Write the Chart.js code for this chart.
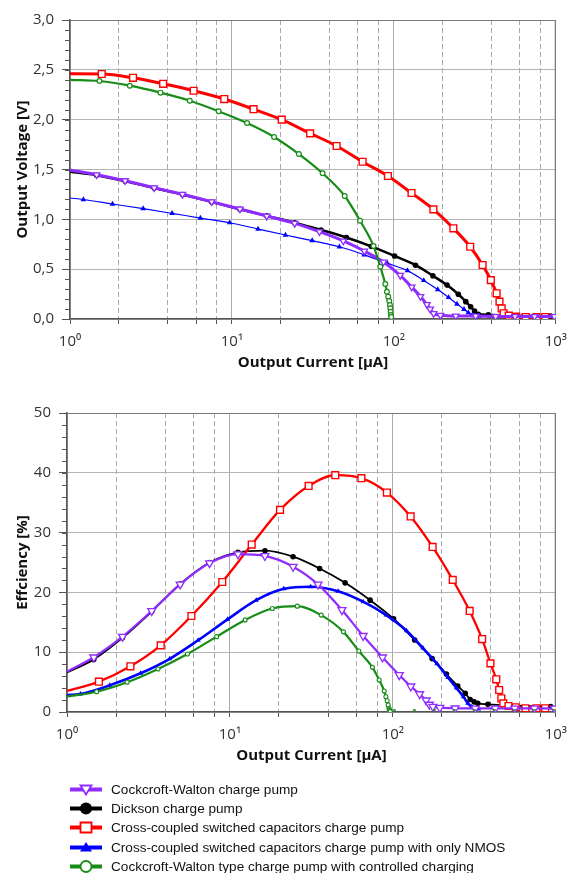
<!DOCTYPE html>
<html>
<head>
<meta charset="utf-8">
<script src="https://cdn.jsdelivr.net/npm/chart.js@4.4.1/dist/chart.umd.min.js"></script>
<style>
  html, body { margin: 0; padding: 0; background: #fff; }
  body { width: 576px; height: 873px; position: relative; overflow: hidden; font-family: 'Liberation Sans', Arial, sans-serif; }
  .box { position: absolute; left: 0; width: 576px; }
  #voltBox { top: 0; height: 375px; }
  #effBox { top: 390px; height: 378px; }
  #legend { position: absolute; left: 70px; top: 780px; }
  .row { display: flex; align-items: center; height: 19.2px; font-size: 13.6px; color: #111; white-space: nowrap; }
  .row canvas { margin-right: 9px; }
</style>
</head>
<body>
<div class="box" id="voltBox"><canvas id="voltChart"></canvas></div>
<div class="box" id="effBox"><canvas id="effChart"></canvas></div>
<div id="legend"></div>
<script>
// Axis ticks
const xTickVals = [1, 2, 4, 6, 8, 10, 20, 40, 60, 80, 100, 200, 400, 600, 800, 1000];
const decadeVals = [1, 10, 100, 1000];
const decadeLabels = ['10⁰', '10¹', '10²', '10³'];
const voltTicks = [0, 0.5, 1, 1.5, 2, 2.5, 3];
const effTicks = [0, 10, 20, 30, 40, 50];

// Cockcroft-Walton charge pump (current in µA)
const cwI = [1, 1.46, 2.19, 3.31, 4.95, 7.5, 11.2, 16.4, 24.4, 34.7, 48.7, 65.7, 86.3, 109.4, 128.8, 145.9, 160, 167.5, 176, 194, 241, 320, 425, 560, 740, 980];
const cwV = [1.495, 1.448, 1.388, 1.317, 1.251, 1.177, 1.104, 1.033, 0.96, 0.876, 0.783, 0.682, 0.572, 0.438, 0.321, 0.226, 0.145, 0.10, 0.055, 0.037, 0.03, 0.03, 0.025, 0.025, 0.025, 0.025];
const cwEff = [6.74, 9.15, 12.6, 16.9, 21.35, 24.9, 26.4, 26.1, 24.3, 21.35, 17.06, 12.74, 9.15, 6.19, 4.3, 3.0, 1.96, 1.25, 0.89, 0.72, 0.62, 0.6, 0.6, 0.6, 0.6, 0.6];

// Dickson charge pump
const dkI = [1, 1.46, 2.19, 3.31, 4.95, 7.5, 11.2, 16.4, 24.4, 35.5, 50.9, 72.5, 101, 136, 174, 213, 250, 278, 298, 315, 332, 383, 514, 930];
const dkV = [1.478, 1.443, 1.384, 1.314, 1.249, 1.174, 1.102, 1.035, 0.966, 0.893, 0.818, 0.729, 0.632, 0.54, 0.434, 0.34, 0.248, 0.174, 0.123, 0.08, 0.047, 0.043, 0.035, 0.03];
const dkEff = [6.6, 8.8, 12.4, 16.8, 21.4, 25.0, 26.7, 26.97, 25.97, 24.0, 21.6, 18.7, 15.6, 12.04, 8.93, 6.34, 4.35, 3.13, 2.1, 1.7, 1.45, 1.29, 1.1, 0.9];

// Cross-coupled switched capacitors charge pump
const ccI = [1, 1.57, 2.45, 3.76, 5.8, 8.97, 13.6, 20.3, 30.4, 44.3, 64.1, 91.9, 128.5, 175.4, 233, 296, 353, 397, 431, 449, 463, 476, 512, 568, 651, 760, 860];
const ccV = [2.46, 2.458, 2.42, 2.36, 2.29, 2.207, 2.105, 2.0, 1.863, 1.736, 1.578, 1.435, 1.264, 1.10, 0.91, 0.725, 0.542, 0.39, 0.258, 0.174, 0.107, 0.057, 0.033, 0.023, 0.02, 0.02, 0.02];
const ccEff = [3.51, 5.07, 7.64, 11.15, 16.05, 21.74, 28.0, 33.8, 37.8, 39.6, 39.1, 36.7, 32.7, 27.6, 22.1, 16.9, 12.2, 8.14, 5.47, 3.68, 2.29, 1.45, 1.0, 0.79, 0.62, 0.62, 0.62];

// Cross-coupled switched capacitors charge pump with only NMOS
const nmI = [1, 1.21, 1.83, 2.83, 4.27, 6.38, 9.68, 14.5, 21.4, 31.3, 46.1, 65.7, 91, 121.3, 152.9, 186.6, 217.8, 245.5, 271, 288.4, 305, 336];
const nmV = [1.214, 1.199, 1.154, 1.107, 1.06, 1.013, 0.966, 0.903, 0.843, 0.786, 0.725, 0.644, 0.56, 0.485, 0.387, 0.295, 0.216, 0.15, 0.097, 0.063, 0.04, 0.03];
const nmEff = [2.84, 3.0, 4.46, 6.47, 8.9, 12.0, 15.5, 18.7, 20.6, 20.95, 20.2, 18.45, 16.2, 13.6, 10.7, 8.08, 5.77, 4.01, 2.56, 1.45, 0.89, 0.5];

// Cockcroft-Walton type charge pump with controlled charging
const ctI = [1, 1.52, 2.34, 3.62, 5.49, 8.28, 12.4, 18.2, 25.9, 36.3, 49.7, 61.8, 74.9, 82.4, 88.5, 90.6, 92.3, 93.6, 94.6, 95.1, 95.5, 96, 96.3];
const ctV = [2.40, 2.388, 2.341, 2.271, 2.19, 2.084, 1.966, 1.826, 1.655, 1.462, 1.234, 0.986, 0.732, 0.525, 0.351, 0.274, 0.224, 0.181, 0.14, 0.107, 0.073, 0.04, 0.02];
const ctEff = [2.56, 3.39, 4.97, 7.19, 9.7, 12.6, 15.4, 17.3, 17.7, 16.2, 13.4, 10.2, 7.47, 5.35, 3.51, 2.56, 1.89, 1.17, 0.62, 0.4, 0.25, 0.1, 0.05];
const ctTailI = [100, 1000];
const ctTailEff = [0.35, 0.35];

const labels = [
    'Cockcroft-Walton charge pump',
    'Dickson charge pump',
    'Cross-coupled switched capacitors charge pump',
    'Cross-coupled switched capacitors charge pump with only NMOS',
    'Cockcroft-Walton type charge pump with controlled charging'
];

const PURPLE = '#8f2cff';
const GREEN = '#178c17';
const FONT = "'Open Sans', 'DejaVu Sans', sans-serif";

function pts(xs, ys) {
    return xs.map((x, i) => ({ x: x, y: ys[i] }));
}

function makeDataset(label, xs, ys, s) {
    return {
        label: label,
        data: pts(xs, ys),
        borderColor: s.color,
        backgroundColor: s.fill,
        borderWidth: s.lw,
        pointStyle: s.shape,
        pointRotation: s.rot || 0,
        pointRadius: (c) => c.dataIndex === 0 ? 0 : s.r,
        pointBorderColor: s.color,
        pointBackgroundColor: s.fill,
        pointBorderWidth: s.pbw,
        cubicInterpolationMode: 'monotone',
        order: s.order
    };
}

function xScale() {
    return {
        type: 'logarithmic',
        min: 1,
        max: 1000,
        afterBuildTicks: (s) => { s.ticks = xTickVals.map(v => ({ value: v })); },
        afterFit: (s) => { s.height = 56; },
        ticks: {
            autoSkip: false,
            maxRotation: 0,
            padding: 9,
            color: '#333',
            font: { family: FONT, size: 15 },
            callback: (v) => {
                const k = decadeVals.indexOf(v);
                return k >= 0 ? decadeLabels[k] : '';
            }
        },
        grid: { color: '#ababab', lineWidth: 1, tickLength: 5, tickColor: '#555' },
        border: {
            color: '#555',
            width: 1.5,
            dash: (c) => (c.tick && decadeVals.indexOf(c.tick.value) < 0) ? [5, 3] : []
        },
        title: {
            display: true,
            text: 'Output Current [µA]',
            color: '#111',
            font: { family: FONT, size: 15, weight: 'bold' },
            padding: { top: 0, bottom: 3 }
        }
    };
}

function yScale(tickVals, width, fmt, titleText) {
    return {
        type: 'linear',
        min: tickVals[0],
        max: tickVals[tickVals.length - 1],
        afterBuildTicks: (s) => { s.ticks = tickVals.map(v => ({ value: v })); },
        afterFit: (s) => { s.width = width; },
        ticks: {
            padding: 8,
            color: '#333',
            font: { family: FONT, size: 15 },
            callback: fmt
        },
        grid: { color: '#b4b4b4', lineWidth: 1, tickLength: 8, tickColor: '#555' },
        border: { color: '#555', width: 1.5 },
        title: {
            display: true,
            text: titleText,
            color: '#111',
            font: { family: FONT, size: 15, weight: 'bold' },
            padding: { top: 14, bottom: 0 }
        }
    };
}

// frame on top/right and short minor ticks on the y axis
const framePlugin = {
    id: 'frame',
    beforeDatasetsDraw(chart, args, opts) {
        const ctx = chart.ctx;
        const a = chart.chartArea;
        const y = chart.scales.y;
        ctx.save();
        ctx.strokeStyle = '#7a7a7a';
        ctx.lineWidth = 1.2;
        ctx.beginPath();
        ctx.moveTo(a.left, a.top + 0.5);
        ctx.lineTo(a.right - 0.5, a.top + 0.5);
        ctx.lineTo(a.right - 0.5, a.bottom);
        ctx.stroke();
        ctx.strokeStyle = '#555';
        ctx.lineWidth = 1;
        const n = Math.round((y.max - y.min) / opts.minor);
        for (let i = 0; i <= n; i++) {
            const py = Math.round(y.getPixelForValue(y.min + i * opts.minor)) + 0.5;
            ctx.beginPath();
            ctx.moveTo(a.left - 5, py);
            ctx.lineTo(a.left, py);
            ctx.stroke();
        }
        ctx.restore();
    }
};

function baseOptions(tickVals, yWidth, fmt, yTitle, padTop, minor) {
    return {
        responsive: true,
        maintainAspectRatio: false,
        devicePixelRatio: 1,
        animation: false,
        layout: { padding: { top: padTop, right: 19, left: 0, bottom: 0 } },
        plugins: {
            legend: { display: false },
            tooltip: { enabled: false },
            frame: { minor: minor }
        },
        scales: {
            x: xScale(),
            y: yScale(tickVals, yWidth, fmt, yTitle)
        }
    };
}

const voltChart = new Chart(document.getElementById('voltChart'), {
    type: 'line',
    data: {
        datasets: [
            makeDataset(labels[0], cwI, cwV, { color: PURPLE, fill: '#fff', lw: 3, shape: 'triangle', rot: 180, r: 3.8, pbw: 1.3, order: 1 }),
            makeDataset(labels[1], dkI, dkV, { color: '#000', fill: '#000', lw: 2.5, shape: 'circle', r: 2.8, pbw: 0, order: 4 }),
            makeDataset(labels[2], ccI, ccV, { color: '#ff0000', fill: '#fff', lw: 3, shape: 'rect', r: 4.8, pbw: 1.4, order: 2 }),
            makeDataset(labels[3], nmI, nmV, { color: '#0000ff', fill: '#0000ff', lw: 1.2, shape: 'triangle', r: 3.3, pbw: 0, order: 3 }),
            makeDataset(labels[4], ctI, ctV, { color: GREEN, fill: '#fff', lw: 2.2, shape: 'circle', r: 2.4, pbw: 1.2, order: 0 })
        ]
    },
    options: baseOptions(voltTicks, 70, (v) => v.toFixed(1).replace('.', ','), 'Output Voltage [V]', 20, 0.1),
    plugins: [framePlugin]
});

const effChart = new Chart(document.getElementById('effChart'), {
    type: 'line',
    data: {
        datasets: [
            makeDataset(labels[0], cwI, cwEff, { color: PURPLE, fill: '#fff', lw: 2.2, shape: 'triangle', rot: 180, r: 4.6, pbw: 1.3, order: 1 }),
            makeDataset(labels[1], dkI, dkEff, { color: '#000', fill: '#000', lw: 1.8, shape: 'circle', r: 2.8, pbw: 0, order: 4 }),
            makeDataset(labels[2], ccI, ccEff, { color: '#ff0000', fill: '#fff', lw: 2.3, shape: 'rect', r: 4.8, pbw: 1.4, order: 2 }),
            makeDataset(labels[3], nmI, nmEff, { color: '#0000ff', fill: '#0000ff', lw: 2.6, shape: 'triangle', r: 3, pbw: 0, order: 3 }),
            makeDataset(labels[4], ctI, ctEff, { color: GREEN, fill: '#fff', lw: 2.2, shape: 'circle', r: 2, pbw: 1.1, order: 0 }),
            {
                label: 'tail',
                data: pts(ctTailI, ctTailEff),
                borderColor: GREEN,
                borderWidth: 1.5,
                borderDash: [3, 17],
                pointRadius: 0,
                order: 0
            }
        ]
    },
    options: baseOptions(effTicks, 67, (v) => String(v), 'Effciency [%]', 23, 2),
    plugins: [framePlugin]
});

// legend below the charts
const legendStyles = [
    { color: PURPLE, marker: 'triDown' },
    { color: '#000', marker: 'dot' },
    { color: '#ff0000', marker: 'square' },
    { color: '#0000ff', marker: 'triUp' },
    { color: GREEN, marker: 'ring' }
];

function drawIcon(cv, s) {
    const c = cv.getContext('2d');
    c.strokeStyle = s.color;
    c.lineWidth = 4;
    c.beginPath();
    c.moveTo(0, 9.5);
    c.lineTo(32, 9.5);
    c.stroke();
    c.lineWidth = 1.8;
    c.fillStyle = '#fff';
    c.beginPath();
    if (s.marker === 'triDown') {
        c.moveTo(10.5, 5.5); c.lineTo(21.5, 5.5); c.lineTo(16, 14.5); c.closePath();
        c.fill(); c.stroke();
    } else if (s.marker === 'dot') {
        c.fillStyle = s.color;
        c.arc(16, 9.5, 6, 0, Math.PI * 2);
        c.fill();
    } else if (s.marker === 'square') {
        c.rect(10.5, 4.5, 11, 10);
        c.fill(); c.stroke();
    } else if (s.marker === 'triUp') {
        c.fillStyle = s.color;
        c.moveTo(16, 4); c.lineTo(22, 13.5); c.lineTo(10, 13.5); c.closePath();
        c.fill();
    } else {
        c.arc(16, 9.5, 5.5, 0, Math.PI * 2);
        c.fill(); c.stroke();
    }
}

const legendEl = document.getElementById('legend');
labels.forEach((text, i) => {
    const row = document.createElement('div');
    row.className = 'row';
    const cv = document.createElement('canvas');
    cv.width = 32;
    cv.height = 19;
    drawIcon(cv, legendStyles[i]);
    const span = document.createElement('span');
    span.textContent = text;
    row.appendChild(cv);
    row.appendChild(span);
    legendEl.appendChild(row);
});
</script>
</body>
</html>
